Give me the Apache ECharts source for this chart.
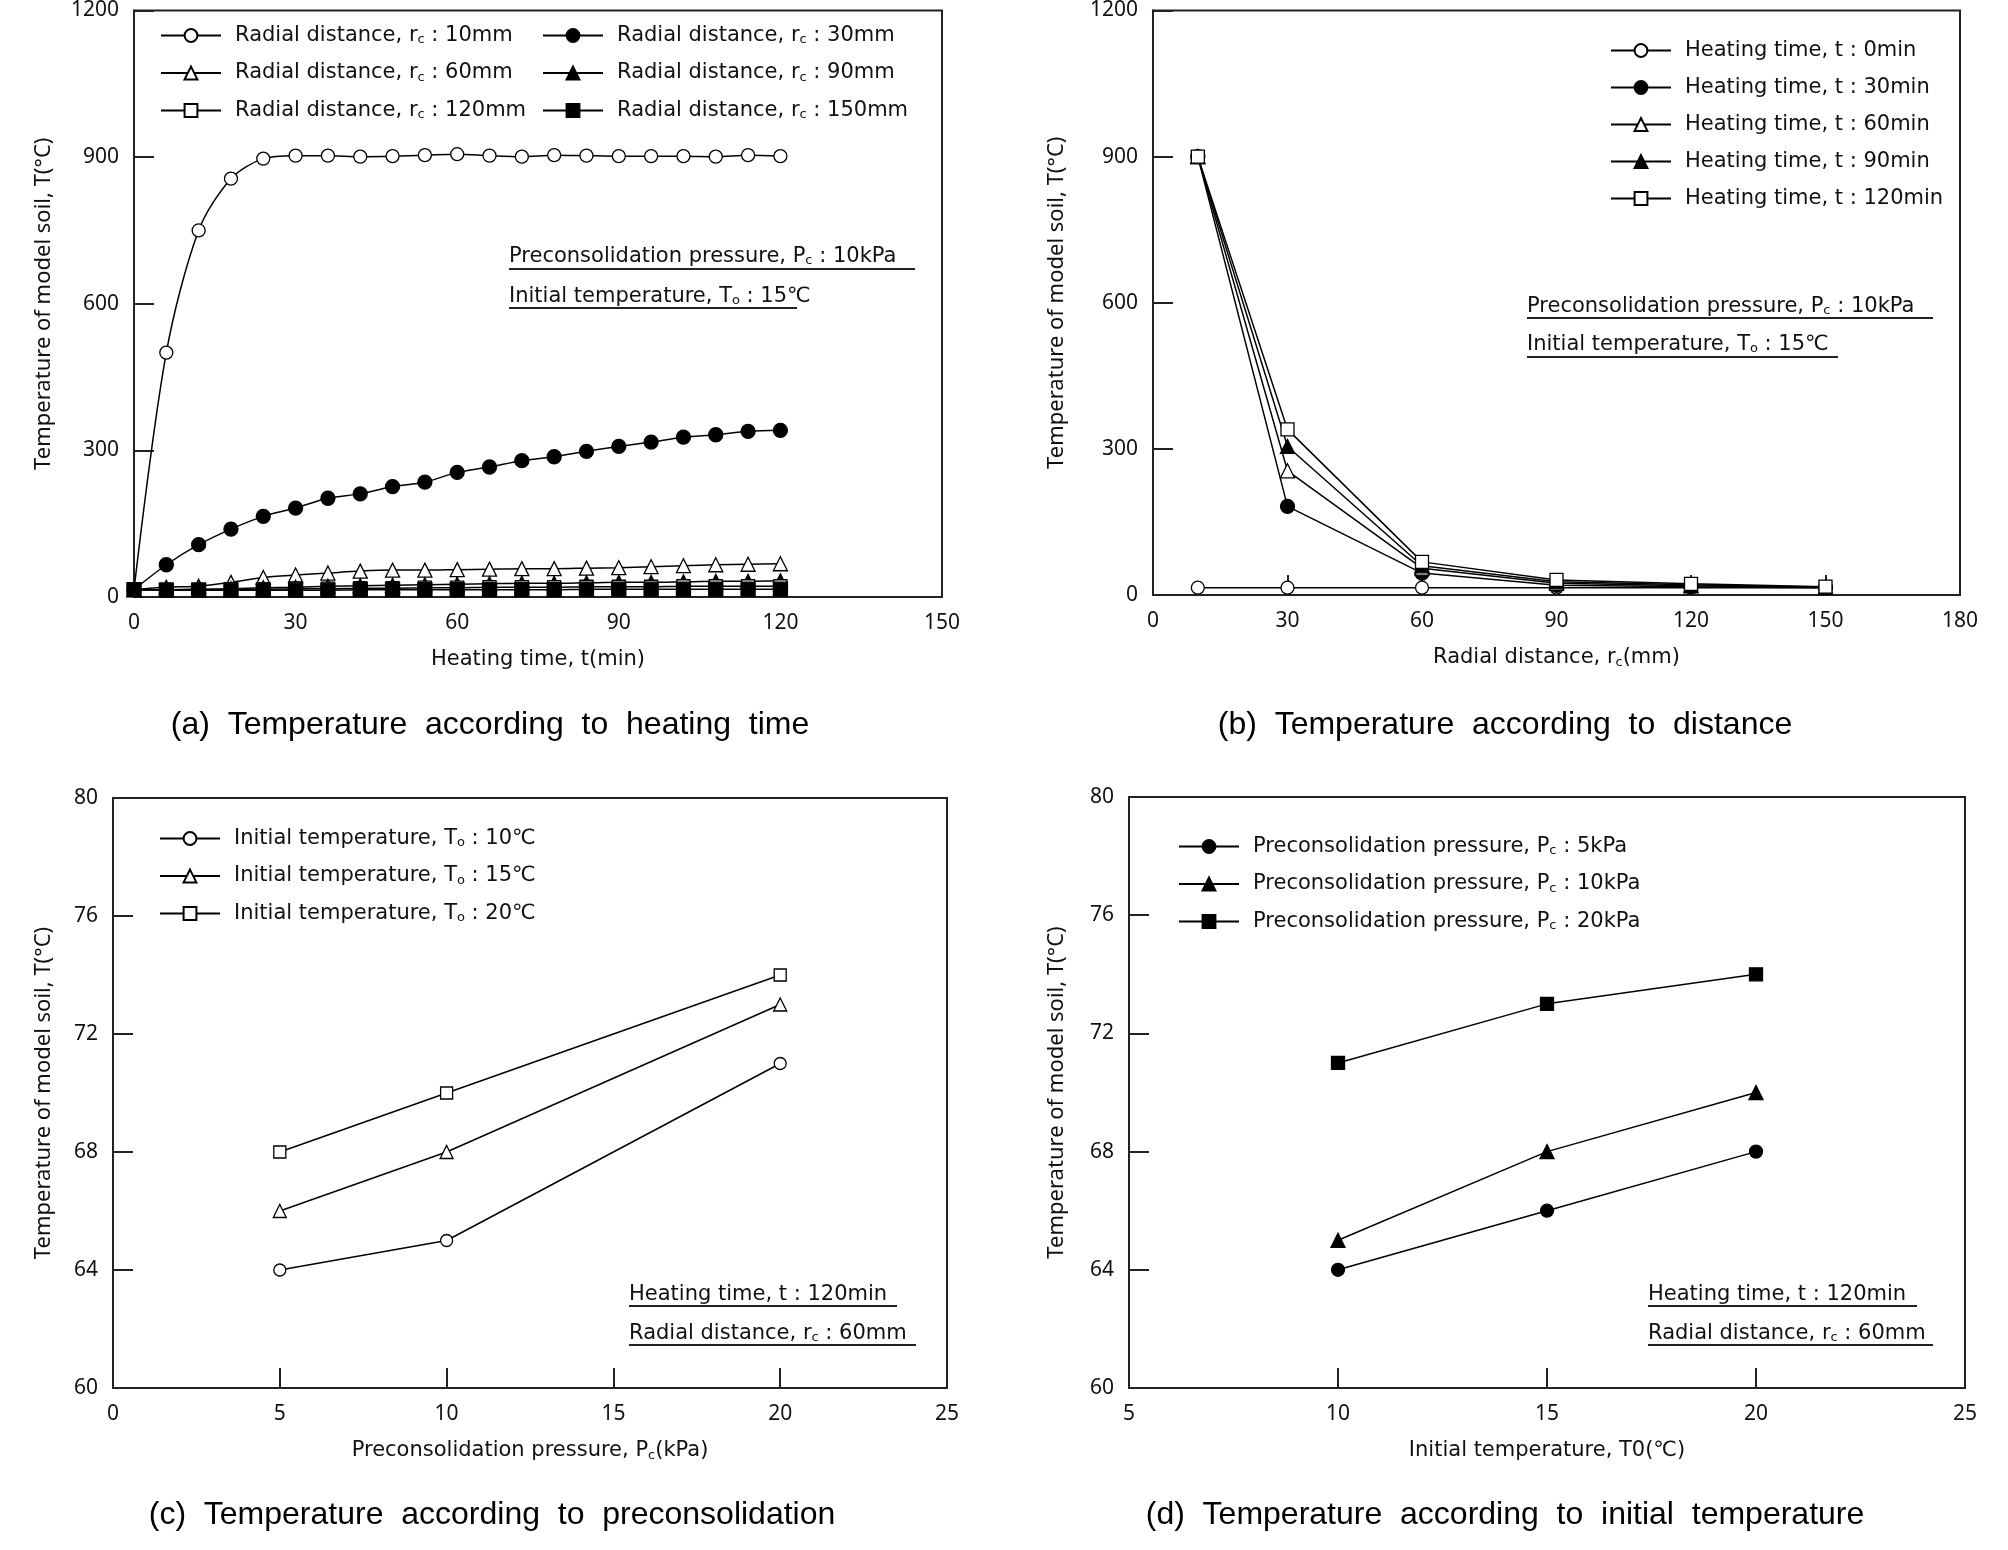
<!DOCTYPE html>
<html>
<head>
<meta charset="utf-8">
<title>Temperature of model soil</title>
<script src="https://cdn.jsdelivr.net/npm/echarts@6/dist/echarts.min.js"></script>
<style>
  html, body { margin: 0; padding: 0; background: #fff; }
  #chart { width: 2008px; height: 1550px; }
</style>
</head>
<body>
<div id="chart"></div>
<script>
// (a) temperature vs heating time, one series per radial distance
var timeA = [0, 6, 12, 18, 24, 30, 36, 42, 48, 54, 60, 66, 72, 78, 84, 90, 96, 102, 108, 114, 120];
var r10 = [15, 500, 750, 856, 897, 903, 903, 901, 902, 904, 906, 903, 901, 904, 903, 902, 902, 902, 901, 904, 902];
var r30 = [15, 66, 107, 139, 165, 182, 202, 211, 226, 235, 255, 266, 279, 287, 298, 308, 317, 327, 332, 339, 341];
var r60 = [15, 20, 22, 30, 40, 45, 49, 53, 55, 55, 56, 57, 58, 58, 59, 60, 62, 64, 66, 67, 68];
var r90 = [15, 15, 16, 17, 19, 20, 22, 23, 24, 25, 26, 27, 28, 28, 29, 30, 30, 31, 32, 32, 33];
var r120 = [15, 15, 15, 16, 16, 17, 17, 18, 18, 19, 19, 20, 20, 20, 21, 21, 21, 22, 22, 22, 22];
var r150 = [15, 14, 14, 14, 14, 14, 14, 15, 15, 15, 15, 15, 15, 15, 16, 16, 16, 16, 16, 16, 16];

// (b) temperature vs radial distance, one series per heating time
var radiusB = [10, 30, 60, 90, 120, 150];
var t0 = [15, 15, 15, 15, 15, 15];
var t30 = [900, 182, 45, 20, 17, 15];
var t60 = [900, 255, 55, 24, 19, 16];
var t90 = [900, 305, 60, 27, 21, 16];
var t120 = [900, 340, 68, 31, 23, 17];

// (c) temperature vs preconsolidation pressure
var pressC = [5, 10, 20];
var to10 = [64, 65, 71];
var to15 = [66, 68, 73];
var to20 = [68, 70, 74];

// (d) temperature vs initial temperature
var tempD = [10, 15, 20];
var pc5 = [64, 66, 68];
var pc10 = [65, 68, 70];
var pc20 = [71, 73, 74];

var txtFont = '"DejaVu Sans", "Noto Sans CJK KR", sans-serif';
var numFont = '"Noto Sans", sans-serif';
var capFont = '"Liberation Sans", Arial, sans-serif';
var ink = '#111';
var subRich = { s: { fontSize: 13, fontFamily: txtFont, color: ink, verticalAlign: 'bottom', padding: [9, 0, 0, 0] } };

function zip(xs, ys) {
  var out = [];
  for (var i = 0; i < xs.length; i++) out.push([xs[i], ys[i]]);
  return out;
}

function mk(name, idx, xs, ys, symbol, filled, size, smooth) {
  return {
    name: name,
    type: 'line',
    xAxisIndex: idx,
    yAxisIndex: idx,
    data: zip(xs, ys),
    symbol: symbol,
    symbolSize: size,
    smooth: smooth || false,
    clip: false,
    lineStyle: { color: '#000', width: 1.5 },
    itemStyle: { color: filled ? '#000' : '#fff', borderColor: '#000', borderWidth: 1.3 },
    emphasis: { disabled: true },
    z: 3
  };
}

function xAx(idx, min, max, step, name) {
  return {
    type: 'value', gridIndex: idx, min: min, max: max, interval: step,
    name: name, nameLocation: 'middle', nameGap: 52,
    nameTextStyle: { fontFamily: txtFont, fontSize: 21, color: ink, rich: subRich },
    axisLine: { show: true, onZero: false, lineStyle: { color: '#222', width: 2 } },
    axisTick: { show: true, inside: true, length: 20, lineStyle: { color: '#222', width: 2 } },
    axisLabel: { fontFamily: numFont, fontSize: 21, color: ink, margin: 16, formatter: '{value}' },
    splitLine: { show: false }
  };
}

function yAx(idx, min, max, step, gap) {
  return {
    type: 'value', gridIndex: idx, min: min, max: max, interval: step,
    name: 'Temperature of model soil, T(°C)', nameLocation: 'middle', nameGap: gap,
    nameTextStyle: { fontFamily: numFont, fontSize: 22, color: ink },
    axisLine: { show: true, onZero: false, lineStyle: { color: '#222', width: 2 } },
    axisTick: { show: true, inside: true, length: 20, lineStyle: { color: '#222', width: 2 } },
    axisLabel: { fontFamily: numFont, fontSize: 21, color: ink, margin: 15, formatter: function (v) { return String(v); } },
    splitLine: { show: false }
  };
}

function lg(names, left, top, fmt) {
  return {
    data: names, left: left, top: top, orient: 'vertical',
    padding: 0, itemWidth: 60, itemHeight: 16, itemGap: 16,
    selectedMode: false,
    textStyle: { fontFamily: txtFont, fontSize: 21, color: ink, padding: [0, 0, 0, 9], rich: subRich },
    formatter: fmt
  };
}

var rcFmt = function (n) { return 'Radial distance, r{s|c} : ' + n.split('|')[1]; };
var tFmt = function (n) { return 'Heating time, t : ' + n.split('|')[1]; };
var toFmt = function (n) { return 'Initial temperature, T{s|o} : ' + n.split('|')[1]; };
var pcFmt = function (n) { return 'Preconsolidation pressure, P{s|c} : ' + n.split('|')[1]; };

function note(x, y, str) {
  return {
    type: 'text', left: x, top: y - 9, z: 10,
    style: { text: str, fontFamily: txtFont, fontSize: 21, fill: ink, rich: subRich }
  };
}
function uline(x1, x2, y) {
  return { type: 'line', z: 10, shape: { x1: x1, y1: y, x2: x2, y2: y }, style: { stroke: '#222', lineWidth: 2 } };
}
function cap(x, y, str) {
  return {
    type: 'text', x: x, y: y, z: 10,
    style: { text: str, fontFamily: capFont, fontSize: 32, fill: '#000', align: 'center', verticalAlign: 'middle' }
  };
}

var chart = echarts.init(document.getElementById('chart'));
var gridBox = { show: true, borderColor: '#222', borderWidth: 2, backgroundColor: 'transparent' };

chart.setOption({
  animation: false,
  backgroundColor: '#fff',
  grid: [
    Object.assign({ left: 134, top: 7, width: 808, height: 590 }, gridBox),
    Object.assign({ left: 1153, top: 7, width: 807, height: 588 }, gridBox),
    Object.assign({ left: 113, top: 798, width: 834, height: 590 }, gridBox),
    Object.assign({ left: 1129, top: 797, width: 836, height: 591 }, gridBox)
  ],
  xAxis: [
    xAx(0, 0, 150, 30, 'Heating time, t(min)'),
    xAx(1, 0, 180, 30, 'Radial distance, r{s|c}(mm)'),
    xAx(2, 0, 25, 5, 'Preconsolidation pressure, P{s|c}(kPa)'),
    xAx(3, 5, 25, 5, 'Initial temperature, T0(℃)')
  ],
  yAxis: [
    yAx(0, 0, 1200, 300, 79),
    yAx(1, 0, 1200, 300, 85),
    yAx(2, 60, 80, 4, 58),
    yAx(3, 60, 80, 4, 61)
  ],
  legend: [
    lg(['a|10mm', 'a|60mm', 'a|120mm'], 160, 25, rcFmt),
    lg(['a|30mm', 'a|90mm', 'a|150mm'], 542, 25, rcFmt),
    lg(['b|0min', 'b|30min', 'b|60min', 'b|90min', 'b|120min'], 1610, 40, tFmt),
    lg(['c|10℃', 'c|15℃', 'c|20℃'], 159, 828, toFmt),
    lg(['d|5kPa', 'd|10kPa', 'd|20kPa'], 1178, 836, pcFmt)
  ],
  series: [
    mk('a|10mm', 0, timeA, r10, 'circle', false, 13, 0.3),
    mk('a|30mm', 0, timeA, r30, 'circle', true, 14, 0.3),
    mk('a|60mm', 0, timeA, r60, 'triangle', false, 14, 0.3),
    mk('a|90mm', 0, timeA, r90, 'triangle', true, 14, 0.3),
    mk('a|120mm', 0, timeA, r120, 'rect', false, 13, 0.3),
    mk('a|150mm', 0, timeA, r150, 'rect', true, 14, 0.3),

    mk('b|0min', 1, radiusB, t0, 'circle', false, 13),
    mk('b|30min', 1, radiusB, t30, 'circle', true, 14),
    mk('b|60min', 1, radiusB, t60, 'triangle', false, 14),
    mk('b|90min', 1, radiusB, t90, 'triangle', true, 14),
    mk('b|120min', 1, radiusB, t120, 'rect', false, 13),

    mk('c|10℃', 2, pressC, to10, 'circle', false, 12),
    mk('c|15℃', 2, pressC, to15, 'triangle', false, 13),
    mk('c|20℃', 2, pressC, to20, 'rect', false, 12),

    mk('d|5kPa', 3, tempD, pc5, 'circle', true, 13),
    mk('d|10kPa', 3, tempD, pc10, 'triangle', true, 14),
    mk('d|20kPa', 3, tempD, pc20, 'rect', true, 13)
  ],
  graphic: [
    note(509, 255, 'Preconsolidation pressure, P{s|c} : 10kPa'), uline(509, 915, 269),
    note(509, 295, 'Initial temperature, T{s|o} : 15℃'), uline(509, 797, 308),
    note(1527, 305, 'Preconsolidation pressure, P{s|c} : 10kPa'), uline(1527, 1933, 318),
    note(1527, 343, 'Initial temperature, T{s|o} : 15℃'), uline(1527, 1838, 357),
    note(629, 1293, 'Heating time, t : 120min'), uline(629, 897, 1306),
    note(629, 1332, 'Radial distance, r{s|c} : 60mm'), uline(629, 916, 1345),
    note(1648, 1293, 'Heating time, t : 120min'), uline(1648, 1917, 1306),
    note(1648, 1332, 'Radial distance, r{s|c} : 60mm'), uline(1648, 1933, 1345),
    cap(490, 725, '(a)  Temperature  according  to  heating  time'),
    cap(1505, 725, '(b)  Temperature  according  to  distance'),
    cap(492, 1515, '(c)  Temperature  according  to  preconsolidation'),
    cap(1505, 1515, '(d)  Temperature  according  to  initial  temperature')
  ]
});
</script>
</body>
</html>
